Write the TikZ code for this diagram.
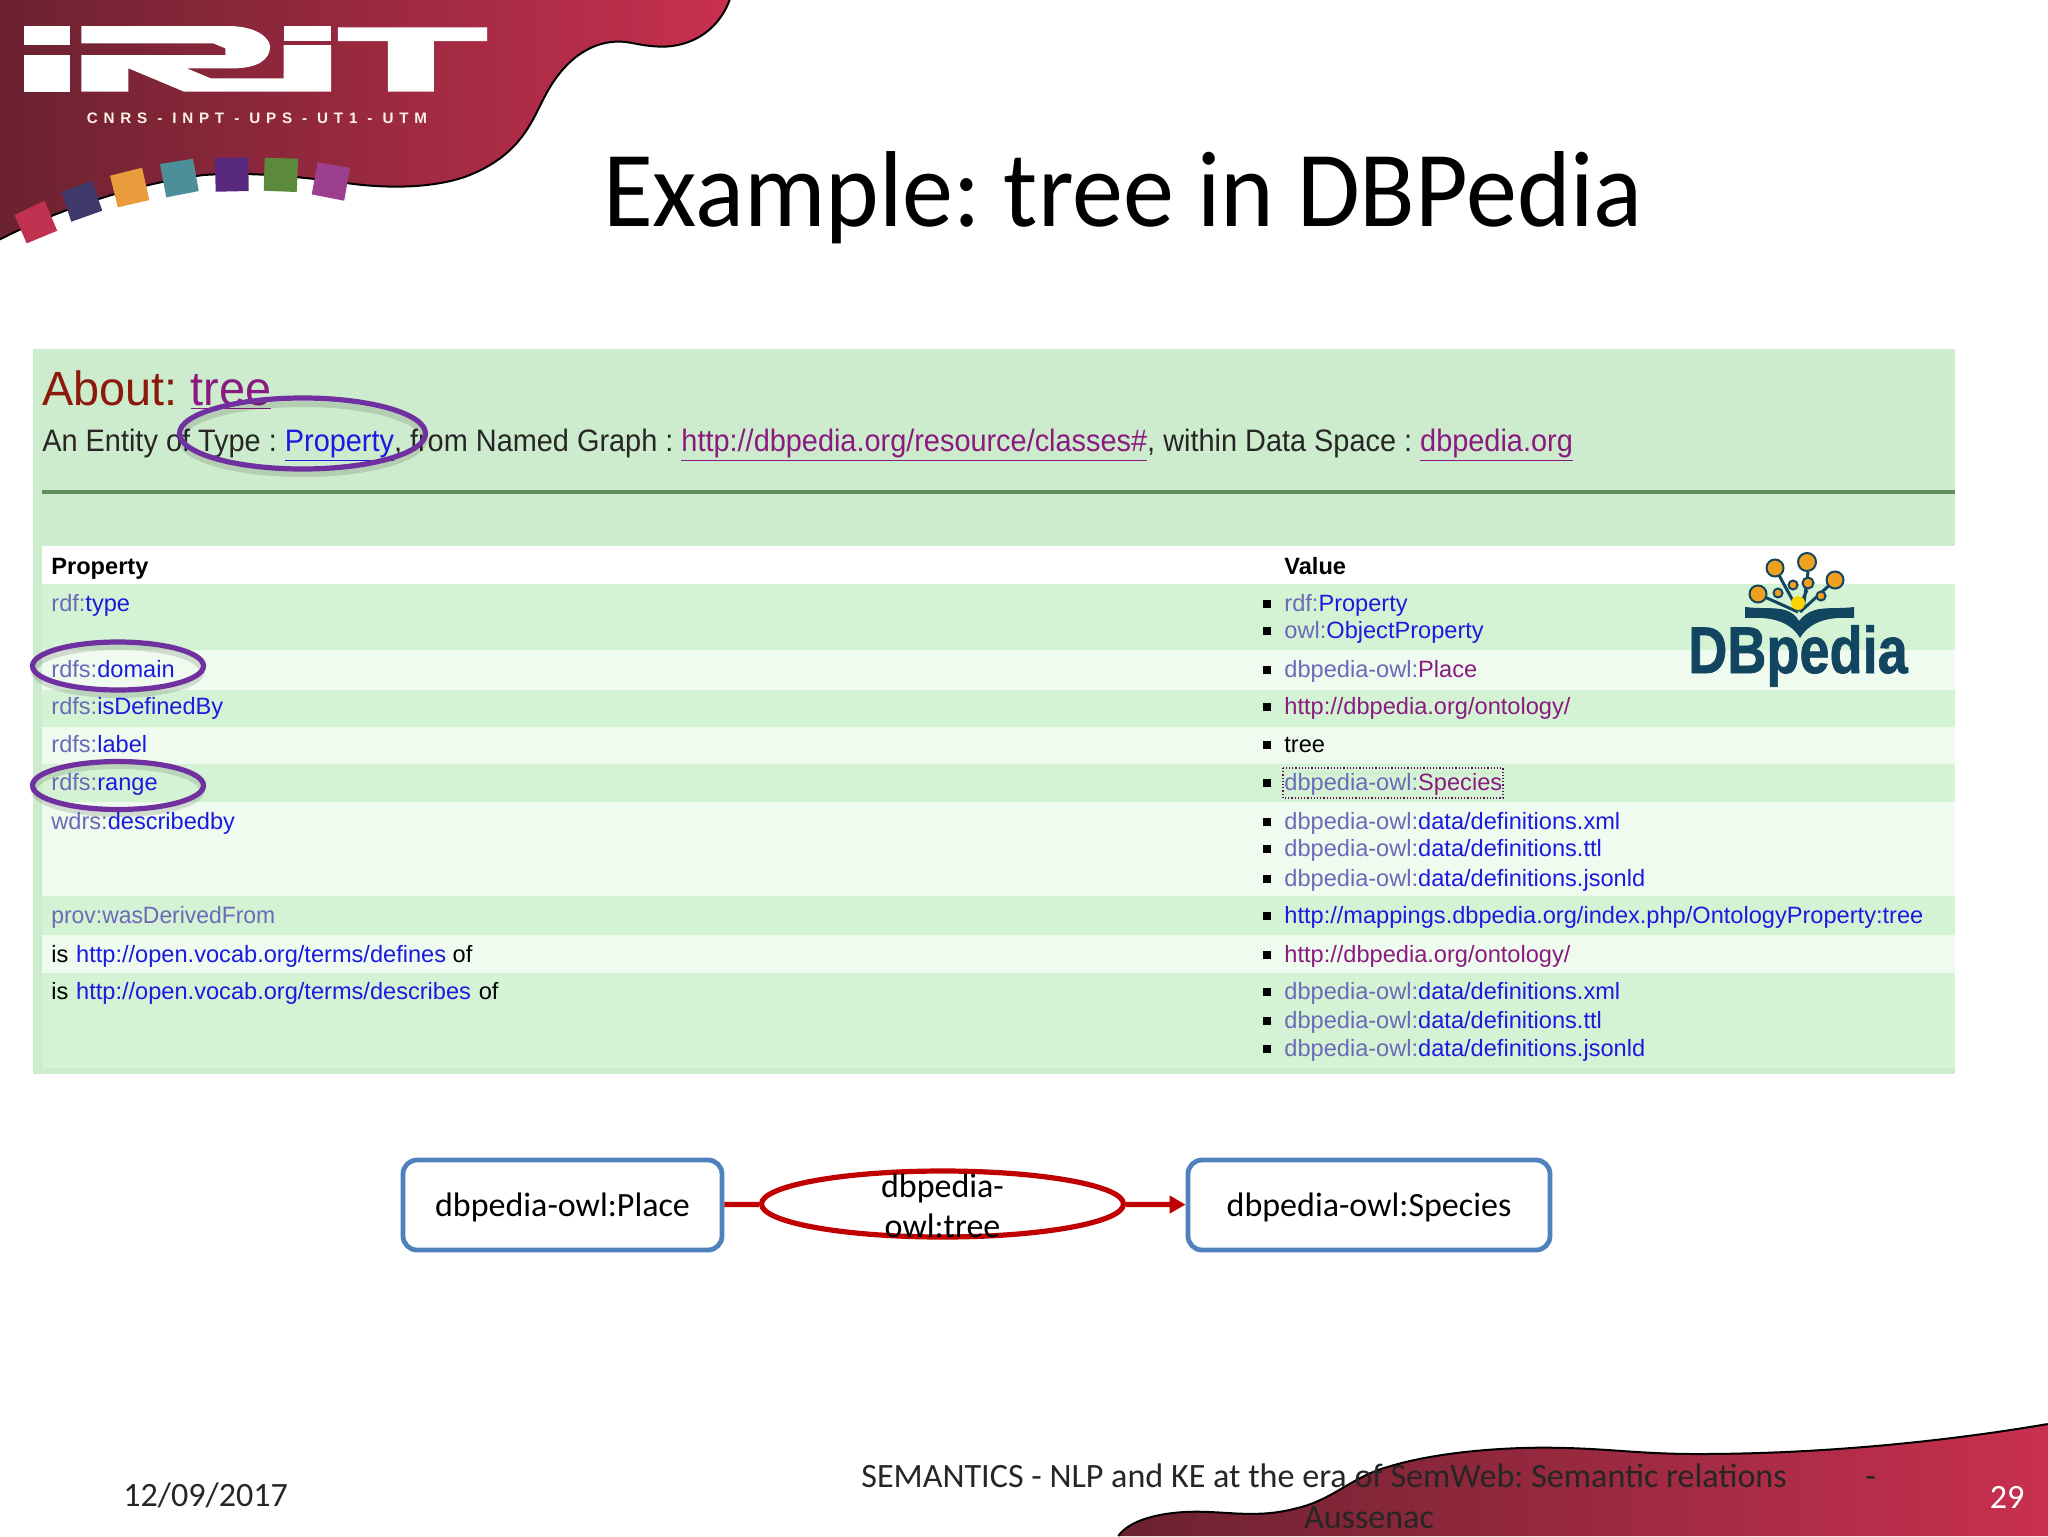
\documentclass[tikz,border=0pt]{standalone}
\usepackage{fontspec}
\setmainfont{Liberation Sans}
\newfontfamily\carl{Carlito}
\usetikzlibrary{shapes.geometric,arrows.meta}
\definecolor{screenbg}{HTML}{CDEBCD}
\definecolor{rowdark}{HTML}{D4F3D4}
\definecolor{rowlight}{HTML}{EFFBEF}
\definecolor{rulegreen}{HTML}{5F8F5F}
\definecolor{prefixc}{HTML}{6A6AB8}
\definecolor{linkc}{HTML}{1A1AE0}
\definecolor{visitc}{HTML}{8B1A80}
\definecolor{ringc}{HTML}{7030A0}
\definecolor{boxblue}{HTML}{4F81BD}
\definecolor{arcred}{HTML}{C00000}
\definecolor{wavedark}{HTML}{6B2230}
\definecolor{wavelight}{HTML}{C8304F}
\definecolor{dbteal}{HTML}{12455F}
\definecolor{dborange}{HTML}{F0A020}
\definecolor{foot}{HTML}{262626}
\definecolor{sqa}{HTML}{C0304F}
\definecolor{sqb}{HTML}{3F3A6B}
\definecolor{sqc}{HTML}{E89C3C}
\definecolor{sqd}{HTML}{4C8F98}
\definecolor{sqe}{HTML}{58287F}
\definecolor{sqf}{HTML}{5C8A3C}
\definecolor{sqg}{HTML}{9C3F8F}
\definecolor{aboutc}{HTML}{8B1A0A}
\tikzset{
  tabletxt/.style={anchor=base west,inner sep=0pt,font=\fontsize{11.8}{14}\selectfont},
  bulletmk/.style={fill=black,minimum size=4.2pt,inner sep=0pt,rectangle},
  ring/.style={ellipse,draw=ringc,line width=2.6pt,inner sep=0pt},
  ringshadow/.style={draw=black,opacity=.12,line width=3pt},
  termbox/.style={draw=boxblue,line width=2.4pt,rounded corners=7pt,fill=white,inner sep=0pt,font=\carl\fontsize{17}{20}\selectfont},
  reltn/.style={ellipse,draw=arcred,line width=2.6pt,inner sep=0pt},
  reltxt/.style={inner sep=0pt,align=center,font=\carl\fontsize{17}{20}\selectfont},
  link/.style={draw=arcred,line width=2.6pt},
  foottxt/.style={anchor=base west,inner sep=0pt,text=foot,font=\carl\fontsize{17.05}{20}\selectfont},
  orb/.style={circle,fill=dborange,draw=dbteal,line width=1pt,inner sep=0pt},
  orbline/.style={draw=dbteal,line width=1.5pt},
}
\newcommand{\pf}[2]{\textcolor{prefixc}{#1}\textcolor{linkc}{#2}}
\newcommand{\pv}[2]{\textcolor{prefixc}{#1}\textcolor{visitc}{#2}}
\begin{document}
\frenchspacing
\begin{tikzpicture}[x=.5pt,y=-.5pt]
\useasboundingbox (0,0) rectangle (2048,1536);
\fill[white] (0,0) rectangle (2048,1536);

% top wave
\begin{scope}[x=.2424pt,y=-.1667pt]
\shade[left color=wavedark,right color=wavelight] (0,0) -- (1505,0) .. controls (1490,60) and (1450,135) .. (1370,140) .. controls (1320,140) and (1300,122) .. (1270,125) .. controls (1200,130) and (1150,210) .. (1120,300) .. controls (1095,370) and (1070,470) .. (960,530) .. controls (880,570) and (780,562) .. (720,550) .. controls (620,530) and (520,515) .. (420,525) .. controls (300,545) and (130,620) .. (0,718) -- cycle;
\draw[black,line width=1pt] (1505,0) .. controls (1490,60) and (1450,135) .. (1370,140) .. controls (1320,140) and (1300,122) .. (1270,125) .. controls (1200,130) and (1150,210) .. (1120,300) .. controls (1095,370) and (1070,470) .. (960,530) .. controls (880,570) and (780,562) .. (720,550) .. controls (620,530) and (520,515) .. (420,525) .. controls (300,545) and (130,620) .. (0,718);
% wordmark
\fill[white] (50,78) rectangle (145,135);
\fill[white] (50,165) rectangle (145,275);
\fill[white] (585,78) rectangle (683,123);
\fill[white] (168,78) -- (470,78) .. controls (530,78) and (557,115) .. (557,140) .. controls (557,180) and (530,205) .. (480,205) -- (385,205) -- (435,235) -- (585,235) -- (585,135) -- (683,135) -- (683,275) -- (380,275) -- (265,205) -- (265,275) -- (168,275) -- (168,165) -- (465,165) -- (465,145) -- (440,130) -- (168,130) -- cycle;
\fill[white] (697,82) -- (1005,82) -- (1005,123) -- (895,123) -- (895,275) -- (800,275) -- (800,123) -- (697,123) -- cycle;
\node[text=white!90!orange,inner sep=0pt,font=\bfseries\fontsize{7.6}{9}\addfontfeature{LetterSpace=38}] (irit) at (530,355) {CNRS - INPT - UPS - UT1 - UTM};
% squares
\fill[sqa] (30,645) -- (92,602) -- (118,692) -- (55,730) -- cycle;
\fill[sqb] (127,575) -- (190,543) -- (211,632) -- (147,665) -- cycle;
\fill[sqc] (227,527) -- (293,503) -- (308,600) -- (243,622) -- cycle;
\fill[sqd] (330,492) -- (398,476) -- (410,573) -- (343,592) -- cycle;
\fill[sqe] (443,474) -- (512,472) -- (513,573) -- (445,575) -- cycle;
\fill[sqf] (546,473) -- (615,476) -- (612,576) -- (544,572) -- cycle;
\fill[sqg] (655,487) -- (722,503) -- (710,602) -- (643,583) -- cycle;
\end{scope}

\node[anchor=base,inner sep=0pt,xscale=.945,font=\carl\fontsize{54}{60}\selectfont] (title) at (1123,226) {Example: tree in DBPedia};

% screenshot
\fill[screenbg] (33,349) rectangle (1955,1074);
\draw[rulegreen,line width=1.6pt] (42,492) -- (1955,492);
\fill[white] (42,546) rectangle (1955,584);
\fill[rowdark] (42,584) rectangle (1955,650);
\fill[rowlight] (42,650) rectangle (1955,690);
\fill[rowdark] (42,690) rectangle (1955,727);
\fill[rowlight] (42,727) rectangle (1955,764);
\fill[rowdark] (42,764) rectangle (1955,802);
\fill[rowlight] (42,802) rectangle (1955,896);
\fill[rowdark] (42,896) rectangle (1955,935);
\fill[rowlight] (42,935) rectangle (1955,973);
\fill[rowdark] (42,973) rectangle (1955,1068);

\node[anchor=base west,inner sep=0pt,xscale=.975,font=\fontsize{24}{28}\selectfont] (about) at (42,405) {\textcolor{aboutc}{About: }\textcolor{visitc}{\underline{tree}}};
\node[anchor=base west,inner sep=0pt,xscale=.932,font=\fontsize{15.5}{18}\selectfont,text=black!85] (entity) at (42,451) {An Entity of Type : \textcolor{linkc}{\underline{Property}}, from Named Graph : \textcolor{visitc}{\underline{http://dbpedia.org/resource/classes\#}}, within Data Space : \textcolor{visitc}{\underline{dbpedia.org}}};

\node[tabletxt,font=\bfseries\fontsize{11.8}{14}\selectfont] (hprop) at (51,574) {Property};
\node[tabletxt,font=\bfseries\fontsize{11.8}{14}\selectfont] (hval) at (1284,574) {Value};
\node[tabletxt] (l1) at (51,611) {\pf{rdf:}{type}};
\node[tabletxt] (l2) at (51,677) {\pf{rdfs:}{domain}};
\node[tabletxt] (l3) at (51,714) {\pf{rdfs:}{isDefinedBy}};
\node[tabletxt] (l4) at (51,752) {\pf{rdfs:}{label}};
\node[tabletxt] (l5) at (51,790) {\pf{rdfs:}{range}};
\node[tabletxt] (l6) at (51,829) {\pf{wdrs:}{describedby}};
\node[tabletxt,xscale=.97] (l7) at (51,923) {\textcolor{prefixc}{prov:wasDerivedFrom}};
\node[tabletxt] (l8) at (51,962) {is \kern.6pt\textcolor{linkc}{http://open.vocab.org/terms/defines} of};
\node[tabletxt] (l9) at (51,999) {is \kern.6pt\textcolor{linkc}{http://open.vocab.org/terms/describes} \kern.6pt of};

\node[tabletxt] (r1) at (1284,611) {\pf{rdf:}{Property}};
\node[tabletxt] (r2) at (1284,638) {\pf{owl:}{ObjectProperty}};
\node[tabletxt] (r3) at (1284,677) {\pv{dbpedia-owl:}{Place}};
\node[tabletxt] (r4) at (1284,714) {\textcolor{visitc}{http://dbpedia.org/ontology/}};
\node[tabletxt] (r5) at (1284,752) {tree};
\node[tabletxt] (r6) at (1284,790) {\pv{dbpedia-owl:}{Species}};
\node[tabletxt] (r7) at (1284,829) {\pf{dbpedia-owl:}{data/definitions.xml}};
\node[tabletxt] (r8) at (1284,856) {\pf{dbpedia-owl:}{data/definitions.ttl}};
\node[tabletxt] (r9) at (1284,886) {\pf{dbpedia-owl:}{data/definitions.jsonld}};
\node[tabletxt] (r10) at (1284,923) {\textcolor{linkc}{http://mappings.dbpedia.org/index.php/OntologyProperty:tree}};
\node[tabletxt] (r11) at (1284,962) {\textcolor{visitc}{http://dbpedia.org/ontology/}};
\node[tabletxt] (r12) at (1284,999) {\pf{dbpedia-owl:}{data/definitions.xml}};
\node[tabletxt] (r13) at (1284,1028) {\pf{dbpedia-owl:}{data/definitions.ttl}};
\node[tabletxt] (r14) at (1284,1056) {\pf{dbpedia-owl:}{data/definitions.jsonld}};
\foreach \yy in {611,638,677,714,752,790,829,856,886,923,962,999,1028,1056}
  \node[bulletmk] (b\yy) at (1267,\yy-7) {};
\draw[densely dotted,draw=visitc!70!black,line width=.6pt] (1283,768) rectangle (1503,798);

% DBpedia logo
\draw[orbline] (1807,590) -- (1798,610) (1775,568) -- (1798,610) (1808,572) -- (1803,610) (1835,580) -- (1800,612) (1758,594) -- (1798,612);
\fill[dbteal] (1745,607) .. controls (1760,609) and (1775,607) .. (1785,610) .. controls (1792,612) and (1796,616) .. (1799,621) .. controls (1803,616) and (1808,612) .. (1815,610) .. controls (1825,607) and (1840,609) .. (1854,607) -- (1854,618) .. controls (1835,617) and (1812,618) .. (1800,638) .. controls (1788,618) and (1765,617) .. (1745,618) -- cycle;
\node[orb,minimum size=9pt] (o1) at (1807,562) {};
\node[orb,minimum size=8.5pt] (o2) at (1775,568) {};
\node[orb,minimum size=8.5pt] (o3) at (1835,580) {};
\node[orb,minimum size=8.5pt] (o4) at (1758,594) {};
\node[orb,minimum size=4.5pt] (o5) at (1778,593) {};
\node[orb,minimum size=4.5pt] (o6) at (1793,585) {};
\node[orb,minimum size=5.5pt] (o7) at (1808,583) {};
\node[orb,minimum size=4.5pt] (o8) at (1821,596) {};
\node[orb,minimum size=7pt,fill=yellow!70!orange,draw=none] (o9) at (1798,603) {};
\node[anchor=base,inner sep=0pt,text=dbteal,xscale=.82,font=\bfseries\fontsize{33}{36}\addfontfeature{FakeBold=1.2}] (dbtext) at (1798,673) {DBpedia};

% rings
\draw[ringshadow] (302.5,439) ellipse (122 and 35);
\draw[ringshadow] (118,671) ellipse (84 and 24);
\draw[ringshadow] (118,790) ellipse (84 and 24);
\node[ring,minimum width=123pt,minimum height=35.5pt] (r-type) at (302.5,433.5) {};
\node[ring,minimum width=85.5pt,minimum height=24pt] (r-domain) at (118,666) {};
\node[ring,minimum width=85.5pt,minimum height=24pt] (r-range) at (118,785.5) {};

% graph
\node[termbox,minimum width=159.5pt,minimum height=45pt] (place) at (562.5,1205) {\raisebox{0pt}[12pt][.4pt]{dbpedia-owl:Place}};
\node[termbox,minimum width=181pt,minimum height=45pt] (species) at (1369,1205) {\raisebox{0pt}[12pt][.4pt]{dbpedia-owl:Species}};
\node[reltn,minimum width=181pt,minimum height=33pt] (tree) at (942.5,1204) {};
\node[reltxt] (treetext) at (942.5,1205.5) {dbpedia-\\owl:tree};
\draw[link] (place) -- (tree);
\draw[link,-{Triangle[length=8pt,width=8.5pt]}] (tree) -- (species);

% footer
\begin{scope}[shift={(1080,1400)},x=.3086pt,y=-.1667pt]
\shade[left color=wavedark,right color=wavelight] (62,408) .. controls (80,360) and (130,335) .. (190,335) .. controls (240,335) and (290,355) .. (350,325) .. controls (410,300) and (440,230) .. (500,200) .. controls (570,160) and (670,143) .. (750,143) .. controls (850,143) and (900,162) .. (1000,162) .. controls (1200,162) and (1400,125) .. (1568,72) -- (1568,408) -- cycle;
\draw[black,line width=1pt] (62,408) .. controls (80,360) and (130,335) .. (190,335) .. controls (240,335) and (290,355) .. (350,325) .. controls (410,300) and (440,230) .. (500,200) .. controls (570,160) and (670,143) .. (750,143) .. controls (850,143) and (900,162) .. (1000,162) .. controls (1200,162) and (1400,125) .. (1568,72);
\end{scope}
\node[foottxt] (date) at (123,1506) {12/09/2017};
\node[foottxt] (ftext) at (861,1487) {SEMANTICS - NLP and KE at the era of SemWeb: Semantic relations};
\node[foottxt] (fdash) at (1865,1487) {-};
\node[foottxt,anchor=base] (fname) at (1369,1528) {Aussenac};
\node[foottxt,anchor=base,text=white] (pageno) at (2007,1508) {29};
\end{tikzpicture}
\end{document}
